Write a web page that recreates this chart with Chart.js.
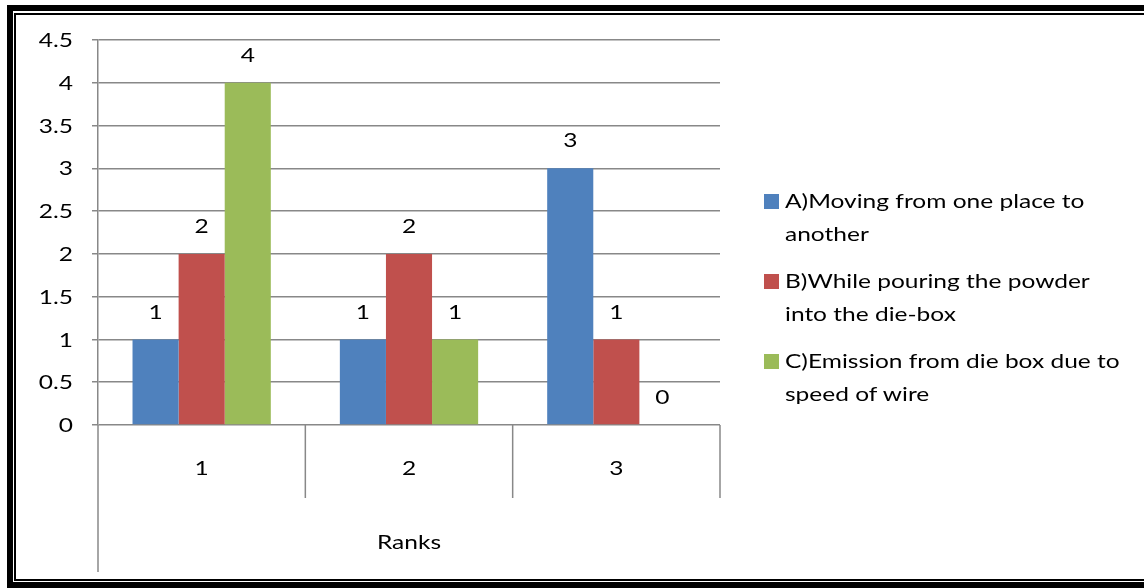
<!DOCTYPE html>
<html>
<head>
<meta charset="utf-8">
<script src="https://cdn.jsdelivr.net/npm/chart.js@4/dist/chart.umd.min.js"></script>
<style>
  body { margin: 0; background: #fff; overflow: hidden; font-family: Lato, sans-serif; }
  #marcoGrueso { position: absolute; left: 7px; top: 5px; width: 1160px; height: 583px; box-sizing: border-box; border: 6px solid #000; }
  #marcoFino { position: absolute; left: 14px; top: 13px; width: 1160px; height: 568px; box-sizing: border-box; border: 2px solid #000; }
  #grafico { position: absolute; left: 0; top: 0; }
  #leyenda { position: absolute; left: 764px; top: 184px; font-size: 19px; line-height: 33px; color: #000; }
  .item { position: relative; padding-left: 21px; margin-bottom: 14px; white-space: nowrap; }
  .texto { display: inline-block; transform: scaleX(1.29); transform-origin: left center; }
  .cuadro { position: absolute; left: 0; top: 10px; width: 15px; height: 15px; }
</style>
</head>
<body>
<div id="marcoGrueso"></div>
<div id="marcoFino"></div>
<canvas id="grafico" width="1144" height="588"></canvas>
<div id="leyenda"></div>

<script>
// Datos del grafico
var categorias = ['1', '2', '3'];
var serieA = [1, 1, 3];
var serieB = [2, 2, 1];
var serieC = [4, 1, 0];
var nombres = [
    ['A)Moving from one place to', 'another'],
    ['B)While pouring the powder', 'into the die-box'],
    ['C)Emission from die box due to', 'speed of wire']
];
var colores = ['#4F81BD', '#C0504D', '#9BBB59'];
var ticksY = [0, 0.5, 1, 1.5, 2, 2.5, 3, 3.5, 4, 4.5];
var tituloX = 'Ranks';

var fuente = { family: 'Lato, sans-serif', size: 19 };
var gris = '#888888';
var ancho = 1.29; // estirado horizontal del texto

function texto(ctx, t, x, y, alin) {
    ctx.save();
    ctx.translate(x, y);
    ctx.scale(ancho, 1);
    ctx.textAlign = alin;
    ctx.fillText(t, 0, 0);
    ctx.restore();
}

// Lineas bajo el eje X, rotulos de ejes y valores sobre las barras
var lineasEje = {
    id: 'lineasEje',
    afterDraw: function (chart) {
        var ctx = chart.ctx;
        var area = chart.chartArea;
        var x = chart.scales.x;
        var y = chart.scales.y;
        var n = categorias.length;
        var paso = (x.right - x.left) / n;
        ctx.save();
        ctx.strokeStyle = gris;
        ctx.lineWidth = 1.5;
        for (var i = 0; i <= n; i++) {
            var px = x.left + paso * i;
            var largo = i === 0 ? 147 : 73;
            ctx.beginPath();
            ctx.moveTo(px, area.bottom);
            ctx.lineTo(px, area.bottom + largo);
            ctx.stroke();
        }
        ctx.font = fuente.size + 'px ' + fuente.family;
        ctx.fillStyle = '#000';
        ctx.textBaseline = 'middle';

        ticksY.forEach(function (v) {
            texto(ctx, String(v), y.right - 25, y.getPixelForValue(v) + 1, 'right');
        });
        categorias.forEach(function (c, i) {
            texto(ctx, c, x.getPixelForValue(i), area.bottom + 44, 'center');
        });
        texto(ctx, tituloX, (x.left + x.right) / 2, area.bottom + 118, 'center');

        chart.data.datasets.forEach(function (ds, i) {
            chart.getDatasetMeta(i).data.forEach(function (barra, j) {
                texto(ctx, String(ds.data[j]), barra.x, barra.y - 27, 'center');
            });
        });
        ctx.restore();
    }
};

var config = {
    type: 'bar',
    data: {
        labels: categorias,
        datasets: [
            { label: nombres[0].join(' '), data: serieA, backgroundColor: colores[0] },
            { label: nombres[1].join(' '), data: serieB, backgroundColor: colores[1] },
            { label: nombres[2].join(' '), data: serieC, backgroundColor: colores[2] }
        ]
    },
    options: {
        responsive: false,
        animation: false,
        barPercentage: 1,
        categoryPercentage: 0.667,
        layout: { padding: { left: 0, top: 40, right: 424, bottom: 0 } },
        plugins: { legend: { display: false }, tooltip: { enabled: false } },
        scales: {
            x: {
                grid: { display: false },
                border: { display: false },
                ticks: { display: false },
                afterFit: function (s) { s.height = 163; }
            },
            y: {
                min: 0,
                max: 4.5,
                afterBuildTicks: function (s) { s.ticks = ticksY.map(function (v) { return { value: v }; }); },
                ticks: { display: false },
                grid: { color: gris, lineWidth: 1.5, tickLength: 6 },
                border: { display: true, color: gris, width: 1.5 },
                afterFit: function (s) { s.width = 98; }
            }
        }
    },
    plugins: [lineasEje]
};

var chart = new Chart(document.getElementById('grafico'), config);

// Leyenda a la derecha
var leyenda = document.getElementById('leyenda');
nombres.forEach(function (lineas, i) {
    var item = document.createElement('div');
    item.className = 'item';
    item.innerHTML = '<span class="cuadro" style="background:' + colores[i] + '"></span>' +
        '<span class="texto">' + lineas.join('<br>') + '</span>';
    leyenda.appendChild(item);
});
</script>
</body>
</html>
